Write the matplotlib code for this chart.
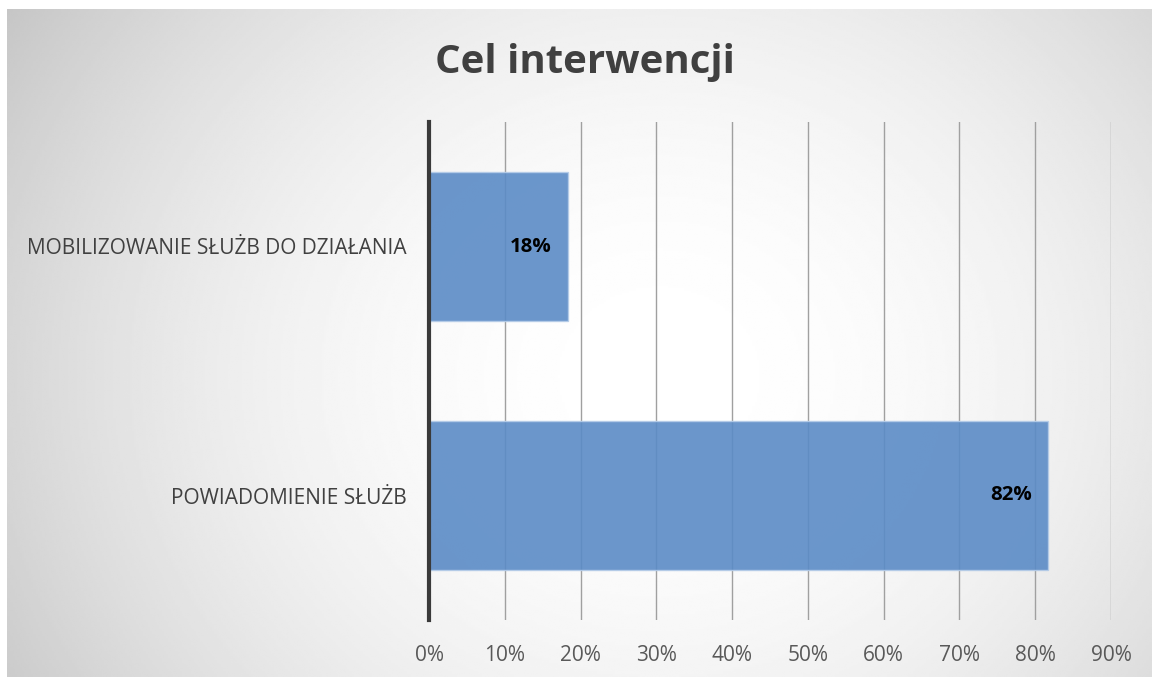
import numpy as np
import matplotlib.pyplot as plt

categories = ["POWIADOMIENIE SŁUŻB", "MOBILIZOWANIE SŁUŻB DO DZIAŁANIA"]
values = [0.817, 0.183]
labels = ["82%", "18%"]
ticks = [0, 0.1, 0.2, 0.3, 0.4, 0.5, 0.6, 0.7, 0.8, 0.9]

plt.rcParams['font.family'] = ['Open Sans', 'DejaVu Sans']

fig = plt.figure(figsize=(11.52, 6.77), dpi=100)

# radial gradient background
bg = fig.add_axes([7 / 1152, 0, 1 - 7 / 1152, 1 - 9 / 677], zorder=-10)
yy, xx = np.mgrid[0:1:300j, 0:1:500j]
r2 = ((xx - 0.57) / 0.57) ** 2 + ((yy - 0.45) / 0.87) ** 2
shade = np.clip(1 - 0.16 * r2, 0.77, 1)
bg.imshow(shade, cmap='gray', vmin=0, vmax=1, extent=[0, 1, 0, 1],
          aspect='auto', origin='lower', interpolation='bilinear')
bg.set_xlim(0, 1)
bg.set_ylim(0, 1)
bg.axis('off')

ax = fig.add_axes([429 / 1152, 57 / 677, (1111 - 429) / 1152, (620 - 122) / 677])
ax.set_facecolor('none')
ax.barh(range(len(categories)), values, height=0.6, color='#5b8bc6', alpha=0.9,
        edgecolor='#b5cce8', linewidth=1, zorder=3)
for i, (v, lab) in enumerate(zip(values, labels)):
    ax.text(v - 0.021, i, lab, ha='right', va='center', fontsize=14.7,
            fontweight='bold', color='black', zorder=4)

ax.set_xlim(0, 0.9)
ax.set_ylim(-0.5, 1.5)
ax.set_xticks(ticks)
ax.set_xticklabels([f"{int(round(t * 100))}%" for t in ticks])
ax.set_yticks(range(len(categories)))
ax.set_yticklabels(categories)
ax.grid(axis='x', color='#a0a0a0', linewidth=1, zorder=1)
ax.set_axisbelow(True)
for s in ['top', 'right', 'bottom']:
    ax.spines[s].set_visible(False)
ax.spines['left'].set_color('#3a3a3a')
ax.spines['left'].set_linewidth(3)
ax.spines['left'].set_zorder(5)
ax.tick_params(axis='x', length=0, pad=18, labelsize=15, labelcolor='#595959')
ax.tick_params(axis='y', length=0, pad=16, labelsize=15, labelcolor='#404040')

fig.text(585 / 1152, 1 - 62 / 677, "Cel interwencji", ha='center', va='center',
         fontsize=29, fontweight='bold', color='#404040')

plt.savefig("out.png", dpi=100)
